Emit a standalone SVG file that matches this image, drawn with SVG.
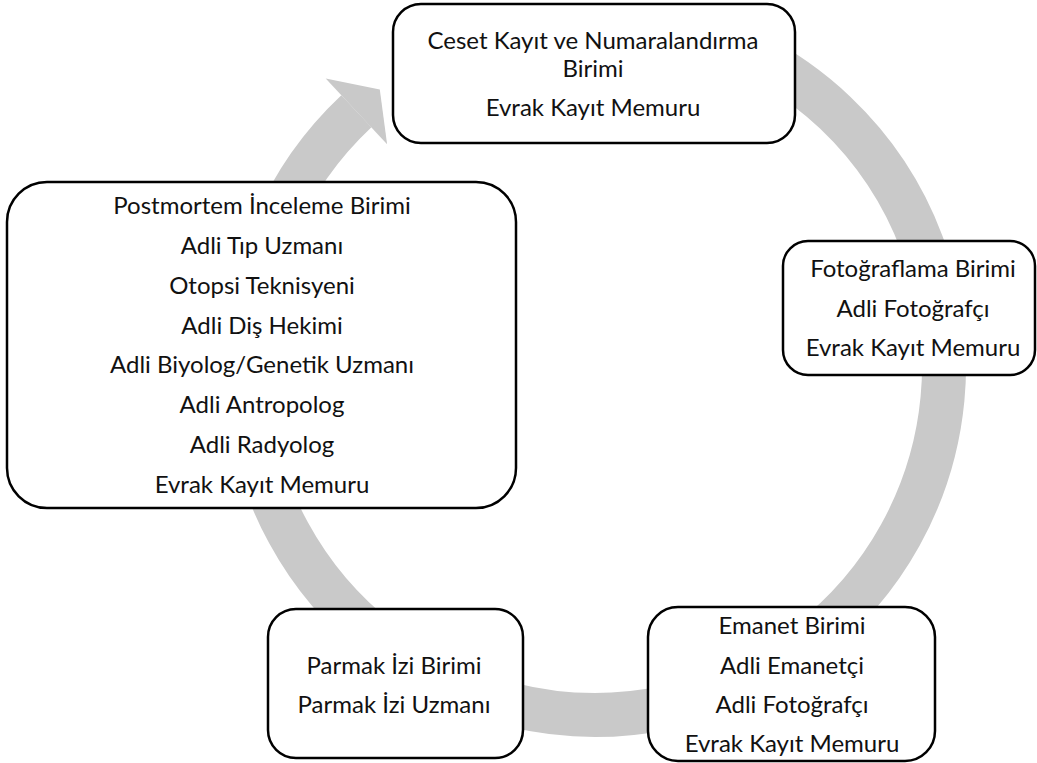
<svg xmlns="http://www.w3.org/2000/svg" width="1037" height="763" viewBox="0 0 1037 763">
<style>
.box{fill:#fff;stroke:#000;stroke-width:2.5}
.t{font-family:Lato,"Open Sans","Liberation Sans",sans-serif;font-size:24px;fill:#111;text-anchor:middle}
.ring{fill:none;stroke:#c9c9c9;stroke-width:44;stroke-linecap:butt}
</style>
<rect width="1037" height="763" fill="#fff"/>
<g id="connectors">
<path class="ring" d="M714.4,38 A349,349 0 1 1 356.4,111.3"/>
<polygon points="325.7,78.4 379.8,89.4 387.1,144.2" fill="#c9c9c9"/>
</g>
<g id="ceset">
<rect class="box" x="393" y="4" width="402" height="139" rx="28"/>
<text class="t" x="593" y="49">Ceset Kayıt ve Numaralandırma</text>
<text class="t" x="593" y="77">Birimi</text>
<text class="t" x="593" y="116">Evrak Kayıt Memuru</text>
</g>
<g id="fotograflama">
<rect class="box" x="783" y="241" width="252" height="134" rx="25"/>
<text class="t" x="913" y="277">Fotoğraflama Birimi</text>
<text class="t" x="913" y="317">Adli Fotoğrafçı</text>
<text class="t" x="913" y="356">Evrak Kayıt Memuru</text>
</g>
<g id="emanet">
<rect class="box" x="648" y="607" width="287" height="154" rx="30"/>
<text class="t" x="792" y="634">Emanet Birimi</text>
<text class="t" x="792" y="674">Adli Emanetçi</text>
<text class="t" x="792" y="713">Adli Fotoğrafçı</text>
<text class="t" x="792" y="752">Evrak Kayıt Memuru</text>
</g>
<g id="parmak">
<rect class="box" x="268" y="609" width="255" height="149" rx="28"/>
<text class="t" x="394" y="674">Parmak İzi Birimi</text>
<text class="t" x="394" y="713">Parmak İzi Uzmanı</text>
</g>
<g id="postmortem">
<rect class="box" x="7" y="182" width="509" height="326" rx="40"/>
<text class="t" x="262" y="214">Postmortem İnceleme Birimi</text>
<text class="t" x="262" y="254">Adli Tıp Uzmanı</text>
<text class="t" x="262" y="294">Otopsi Teknisyeni</text>
<text class="t" x="262" y="334">Adli Diş Hekimi</text>
<text class="t" x="262" y="373">Adli Biyolog/Genetik Uzmanı</text>
<text class="t" x="262" y="413">Adli Antropolog</text>
<text class="t" x="262" y="453">Adli Radyolog</text>
<text class="t" x="262" y="493">Evrak Kayıt Memuru</text>
</g>
</svg>
